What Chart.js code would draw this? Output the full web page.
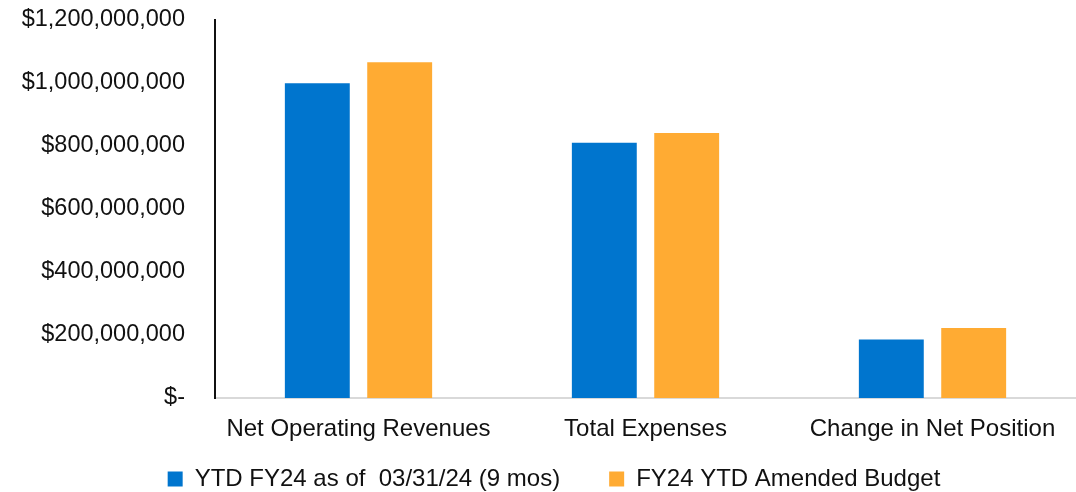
<!DOCTYPE html>
<html>
<head>
<meta charset="utf-8">
<script src="https://cdn.jsdelivr.net/npm/chart.js@4"></script>
<style>
  html, body { margin: 0; padding: 0; background: #fff; }
  #wrap { width: 1076px; height: 492px; }
</style>
</head>
<body>
<div id="wrap"><canvas id="c" width="1076" height="492"></canvas></div>
<script>
const categories = ['Net Operating Revenues', 'Total Expenses', 'Change in Net Position'];
const seriesNames = ['YTD FY24 as of  03/31/24 (9 mos)', 'FY24 YTD Amended Budget'];
const ytdActual = [999000000, 810000000, 186000000];
const amendedBudget = [1066000000, 841000000, 222000000];
const yTickLabels = ['$-', '$200,000,000', '$400,000,000', '$600,000,000', '$800,000,000', '$1,000,000,000', '$1,200,000,000'];

const FONT = "'Liberation Sans', Arial, sans-serif";
const TEXT = '#111111';

// Repositions the legend box: extends it upward (items are drawn at top + padding)
// and nudges it right so it sits where the reference legend is.
const legendShift = {
  id: 'legendShift',
  afterLayout(chart) {
    const lg = chart.legend;
    if (!lg) return;
    lg.top = chart.height - 74;
    lg.bottom = chart.height;
    lg.height = lg.bottom - lg.top;
    lg.left += 16;
    lg.right += 16;
  }
};

new Chart(document.getElementById('c'), {
  type: 'bar',
  data: {
    labels: categories,
    datasets: [
      { label: seriesNames[0], data: ytdActual, backgroundColor: '#0075CE',
        categoryPercentage: 0.574, barPercentage: 0.788 },
      { label: seriesNames[1], data: amendedBudget, backgroundColor: '#FFAB33',
        categoryPercentage: 0.574, barPercentage: 0.788 }
    ]
  },
  plugins: [legendShift],
  options: {
    responsive: false,
    animation: false,
    layout: { padding: { top: 20, right: 0, bottom: 0, left: 0 } },
    plugins: {
      tooltip: { enabled: false },
      legend: {
        position: 'bottom',
        maxHeight: 48,
        labels: {
          color: TEXT,
          font: { family: FONT, size: 24 },
          boxWidth: 15, boxHeight: 15,
          padding: 49
        }
      }
    },
    scales: {
      x: {
        grid: { display: false, drawTicks: false },
        border: { display: true, color: '#d9d9d9', width: 2 },
        ticks: { color: TEXT, font: { family: FONT, size: 24 }, padding: 17, maxRotation: 0, autoSkip: false },
        afterFit: (scale) => { scale.height = 46; }
      },
      y: {
        min: 0, max: 1200000000,
        grid: { display: false, drawTicks: false },
        border: { display: true, color: '#111111', width: 2 },
        ticks: {
          stepSize: 200000000,
          color: TEXT,
          font: { family: FONT, size: 23.5 },
          padding: 30,
          callback: (v, i) => yTickLabels[i]
        },
        afterFit: (scale) => { scale.width = 215; scale.paddingTop = 0; scale.paddingBottom = 0; }
      }
    }
  }
});
</script>
</body>
</html>
